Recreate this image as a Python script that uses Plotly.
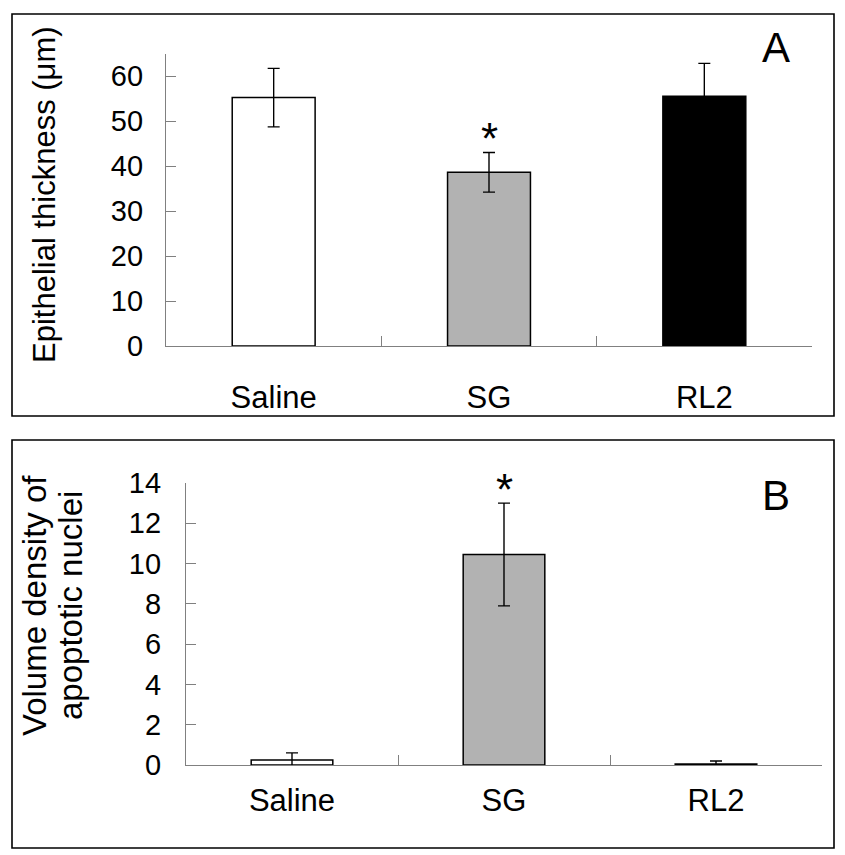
import plotly.graph_objects as go

categories = ["Saline", "SG", "RL2"]
thickness = [55.2, 38.6, 55.5]
thickness_err = [6.5, 4.4, 7.3]
apoptotic = [0.25, 10.45, 0.05]
apoptotic_err = [0.35, 2.55, 0.15]
bar_colors = ["#ffffff", "#b2b2b2", "#000000"]
title_b_lines = ["Volume density of", "apoptotic nuclei"]

# the page body adds an 8px margin; lay out in screen pixels and compensate
OFF = 8
W, H = 845 - OFF, 855 - OFF
FONT = "Liberation Sans, Arial, sans-serif"

def px(x):
    return (x - OFF) / W

def py(y):
    return 1 - (y - OFF) / H

fig = go.Figure()

fig.add_trace(go.Bar(
    x=categories, y=thickness, xaxis="x", yaxis="y",
    marker=dict(color=bar_colors, line=dict(color="black", width=1.5)),
    width=0.385,
    error_y=dict(type="data", array=thickness_err, color="black", thickness=1.4, width=6),
    showlegend=False,
))
fig.add_trace(go.Bar(
    x=categories, y=apoptotic, xaxis="x2", yaxis="y2",
    marker=dict(color=bar_colors, line=dict(color="black", width=1.5)),
    width=0.385,
    error_y=dict(type="data", array=apoptotic_err, color="black", thickness=1.4, width=6),
    showlegend=False,
))

line_common = dict(showline=True, linecolor="#808080", linewidth=1.3, showgrid=False,
                   zeroline=False, ticks="inside", tickcolor="#808080", ticklen=10)
yfont = dict(family=FONT, size=29, color="black")
xfont = dict(family=FONT, size=31, color="black")

fig.update_layout(
    width=W, height=H,
    margin=dict(l=0, r=0, t=0, b=0, autoexpand=False),
    paper_bgcolor="white", plot_bgcolor="white",
    xaxis=dict(domain=[px(166), px(812)], anchor="y", tickson="boundaries",
               ticklabelstandoff=24, tickfont=xfont, **line_common),
    yaxis=dict(domain=[py(346), py(53.5)], anchor="x", range=[0, 65],
               tickvals=[0, 10, 20, 30, 40, 50, 60], ticklabelstandoff=16,
               tickfont=yfont, **line_common),
    xaxis2=dict(domain=[px(186), px(822)], anchor="y2", tickson="boundaries",
                ticklabelstandoff=8, tickfont=xfont, **line_common),
    yaxis2=dict(domain=[py(765), py(483)], anchor="x2", range=[0, 14],
                tickvals=[0, 2, 4, 6, 8, 10, 12, 14], ticklabelstandoff=18,
                tickfont=yfont, **line_common),
)

# panel frames
fig.add_shape(type="rect", xref="paper", yref="paper", x0=px(12), x1=px(834), y0=py(416), y1=py(14),
              line=dict(color="black", width=1.6))
fig.add_shape(type="rect", xref="paper", yref="paper", x0=px(12), x1=px(834), y0=py(848), y1=py(440),
              line=dict(color="black", width=1.6))

# axis titles
fig.add_annotation(text="Epithelial thickness (μm)", xref="paper", yref="paper",
                   x=px(45), y=py(195), xanchor="center", yanchor="middle",
                   textangle=-90, showarrow=False,
                   font=dict(family=FONT, size=31, color="black"))
for line_text, xpos in zip(title_b_lines, [34, 70]):
    fig.add_annotation(text=line_text, xref="paper", yref="paper",
                       x=px(xpos), y=py(606), xanchor="center", yanchor="middle",
                       textangle=-90, showarrow=False,
                       font=dict(family=FONT, size=33, color="black"))

# significance markers
fig.add_annotation(text="*", x="SG", y=47.6, xref="x", yref="y", showarrow=False,
                   xanchor="center", yanchor="middle", yshift=-7,
                   font=dict(family=FONT, size=44, color="black"))
fig.add_annotation(text="*", x="SG", y=13.95, xref="x2", yref="y2", showarrow=False,
                   xanchor="center", yanchor="middle", yshift=-5,
                   font=dict(family=FONT, size=44, color="black"))

# panel letters
fig.add_annotation(text="A", xref="paper", yref="paper", x=px(776), y=py(47), showarrow=False,
                   xanchor="center", yanchor="middle",
                   font=dict(family=FONT, size=42, color="black"))
fig.add_annotation(text="B", xref="paper", yref="paper", x=px(776), y=py(495), showarrow=False,
                   xanchor="center", yanchor="middle",
                   font=dict(family=FONT, size=42, color="black"))

fig.write_html("out.html")
